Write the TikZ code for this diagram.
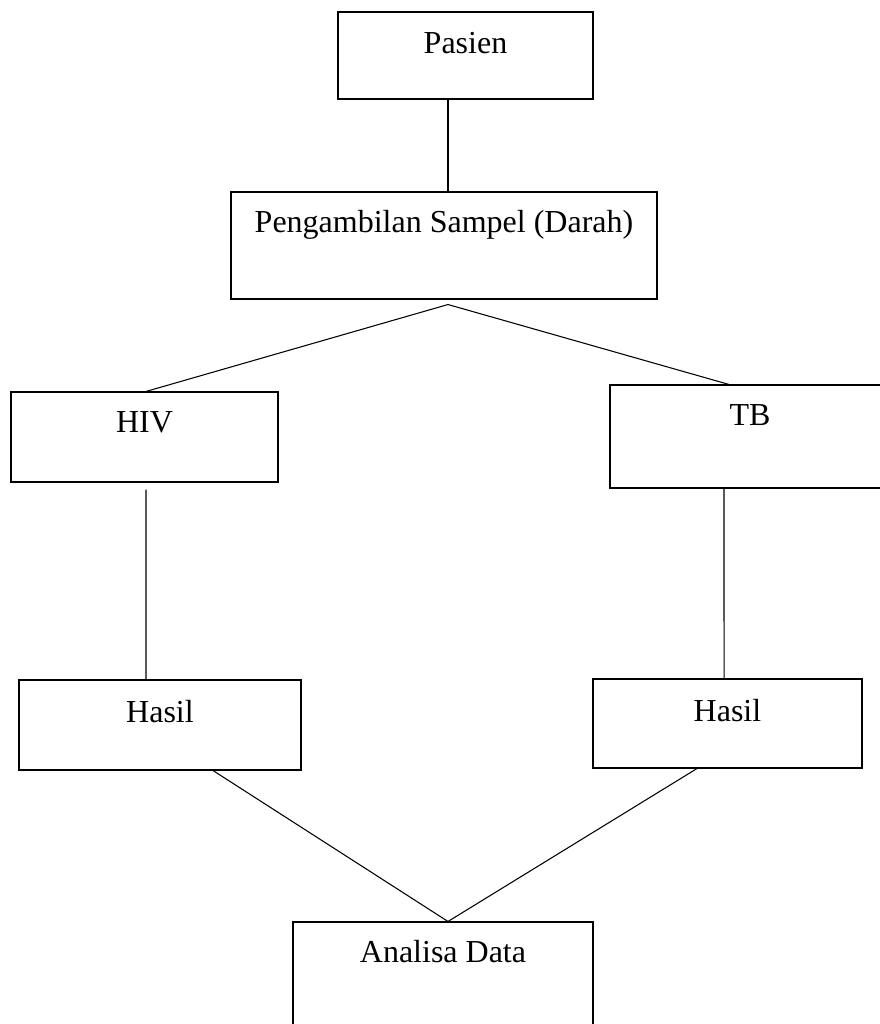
\documentclass[tikz,border=0pt]{standalone}
\usepackage{fontspec}
\setmainfont{Liberation Serif}
\tikzset{
  box/.style={draw, line width=0.8pt, inner sep=0pt, anchor=base,
    font=\fontsize{24}{28}\selectfont},
}
\begin{document}
\begin{tikzpicture}[x=0.75pt, y=-0.75pt, line width=0.8pt]
      \useasboundingbox (0,0) rectangle (880,1024);
      \clip (0,0) rectangle (880,1024);
      \node[box, minimum width=191.25pt, text height=31.5pt, text depth=33.75pt]
        (pasien) at (465.5,54) {Pasien};
      \node[box, minimum width=319.5pt, text height=30pt, text depth=50.25pt]
        (sampel) at (444,232) {Pengambilan Sampel (Darah)};
      \node[box, minimum width=200.25pt, text height=30pt, text depth=37.5pt]
        (hiv) at (144.5,432) {HIV};
      \node[box, minimum width=210pt, text height=30pt, text depth=47.25pt]
        (tb) at (750,425) {TB};
      \node[box, minimum width=211.5pt, text height=31.5pt, text depth=36pt]
        (hasilhiv) at (160,722) {Hasil};
      \node[box, minimum width=201.75pt, text height=31.5pt, text depth=35.25pt]
        (hasiltb) at (727.5,721) {Hasil};
      \node[box, minimum width=225pt, text height=30pt, text depth=75pt]
        (analisa) at (443,962) {Analisa Data};
      \coordinate (split) at ([xshift=3pt,yshift=-3.75pt]sampel.south);
      \coordinate (merge) at ([xshift=3.75pt]analisa.north);
      \begin{scope}[-]
        \draw ([xshift=-13.125pt]pasien.south) to ([xshift=3pt]sampel.north);
        \draw ([xshift=1.1pt]hiv.north) to (split) to ([xshift=-15.75pt]tb.north);
        \draw ([xshift=1.1pt,yshift=-5.25pt]hiv.south) to ([xshift=-10.5pt]hasilhiv.north);
        \draw ([xshift=-19.5pt]tb.south) to ([xshift=-2.6pt]hasiltb.north);
        \draw ([xshift=39.75pt]hasilhiv.south) to (merge) to ([xshift=-22.9pt]hasiltb.south);
      \end{scope}
    \end{tikzpicture}
\end{document}
